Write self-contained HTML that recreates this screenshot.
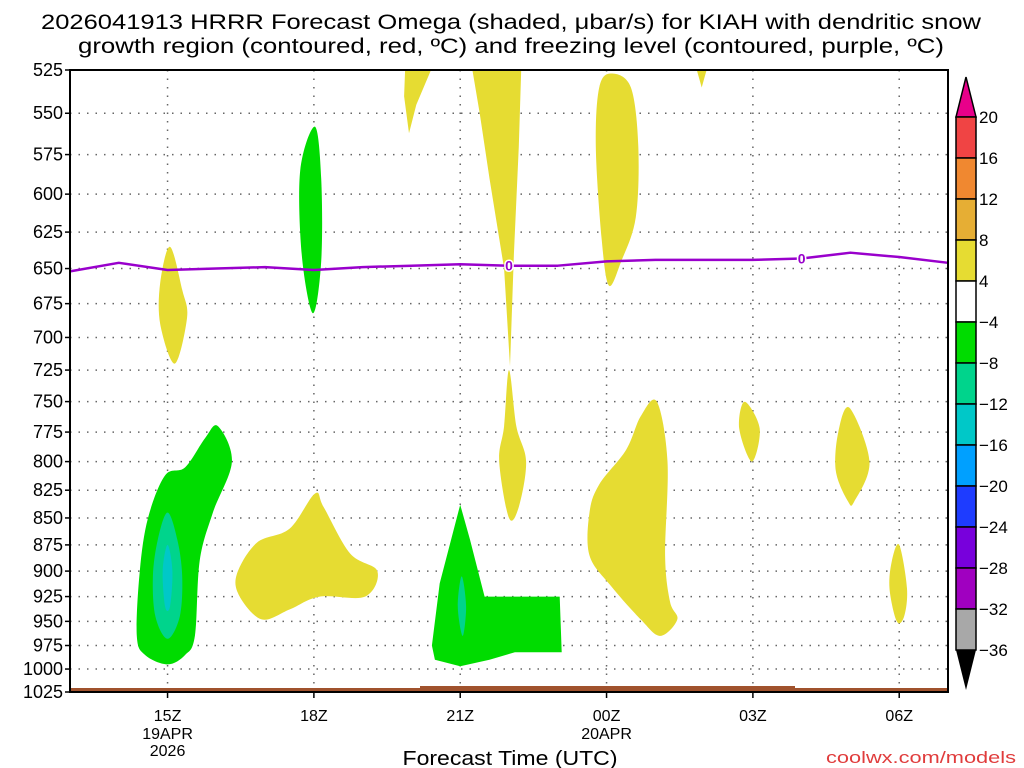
<!DOCTYPE html>
<html><head><meta charset="utf-8"><style>
html,body{margin:0;padding:0;background:#fff;}
svg{display:block;font-family:"Liberation Sans",sans-serif;}
</style></head><body>
<svg id="chart" width="1024" height="768" viewBox="0 0 1024 768">
<text x="511" y="29" text-anchor="middle" font-size="21" textLength="940" lengthAdjust="spacingAndGlyphs">2026041913 HRRR Forecast Omega (shaded, μbar/s) for KIAH with dendritic snow</text>
<text x="511" y="53" text-anchor="middle" font-size="21" textLength="866" lengthAdjust="spacingAndGlyphs">growth region (contoured, red, ºC) and freezing level (contoured, purple, ºC)</text>
<g id="grid"></g>
<g id="shades"></g>
<g id="lines"></g>
<rect x="70" y="688" width="878" height="4" fill="#a0522d"/>
<rect x="420" y="686" width="375" height="6" fill="#a0522d"/>
<rect x="70" y="70" width="878" height="622" fill="none" stroke="#000" stroke-width="2"/>
<g id="axes"></g>
<g id="cbar"></g>
<text x="510" y="765" text-anchor="middle" font-size="20" textLength="215" lengthAdjust="spacingAndGlyphs">Forecast Time (UTC)</text>
<text x="1016" y="763" text-anchor="end" font-size="17" fill="#e03c3c" textLength="190" lengthAdjust="spacingAndGlyphs">coolwx.com/models</text>
</svg>
<script>
const pressureTicks=[525,550,575,600,625,650,675,700,725,750,775,800,825,850,875,900,925,950,975,1000,1025];
const timeTickHours=[2,5,8,11,14,17];
const timeTickLabels=["15Z","18Z","21Z","00Z","03Z","06Z"];
const timeTickDates=["19APR\n2026","","","20APR","",""];
const freezeHours=[0,1,2,3,4,5,6,7,8,9,10,11,12,13,14,15,16,17,18];
const freezePressure=[652,646,651,650,649,651,649,648,647,648,648,645,644,644,644,643,639,642,646];
const freezeLabelHours=[9,15];
const cbarLevels=["20","16","12","8","4","−4","−8","−12","−16","−20","−24","−28","−32","−36"];
const cbarColors=["#f04444","#f08830","#e6ae34","#e6dc32","#ffffff","#00dc00","#00d48c","#00c8c8","#00a0ff","#1e3cff","#7800dc","#a000c0","#a8a8a8"];
// contours: [color, smooth, [[hour,pressure],...]]
const contours=[
["#00dc00",1,[[3.03,770],[3.32,800],[2.93,845],[2.66,890],[2.56,965],[2.36,985],[2.0,995],[1.54,985],[1.37,965],[1.43,900],[1.6,850],[1.95,812],[2.36,805],[2.77,780]]],
["#00d48c",1,[[2.0,845],[2.2,870],[2.3,905],[2.25,945],[2.0,968],[1.75,945],[1.7,905],[1.8,870]]],
["#00c8c8",1,[[2.0,875],[2.1,900],[2.05,935],[1.95,935],[1.9,900]]],
["#e6dc32",1,[[2.05,635],[2.3,665],[2.4,685],[2.15,720],[1.85,690],[1.85,660]]],
["#00dc00",1,[[5.02,558],[5.15,590],[5.15,645],[4.98,682],[4.75,640],[4.72,585]]],
["#e6dc32",1,[[3.42,903],[3.83,873],[4.5,860],[5.02,828],[5.2,840],[5.74,883],[6.3,900],[6.05,925],[5.12,925],[4.5,938],[3.93,948],[3.48,925]]],
["#00dc00",0,[[7.42,975],[7.58,912],[8.0,838],[8.2,870],[8.5,925],[10.04,925],[10.08,982],[9.12,982],[8.6,990],[8.0,997],[7.48,990]]],
["#00d48c",1,[[8.03,905],[8.12,935],[8.05,965],[7.95,935]]],
["#e6dc32",0,[[8.25,525],[9.25,525],[9.2,570],[9.1,640],[9.02,722],[8.9,650],[8.6,590],[8.4,550]]],
["#e6dc32",1,[[9.0,725],[9.15,770],[9.35,800],[9.2,840],[9.0,850],[8.8,800],[8.9,770]]],
["#e6dc32",0,[[6.87,525],[7.4,525],[7.1,545],[6.95,562],[6.85,540]]],
["#e6dc32",1,[[10.85,535],[11.1,527],[11.5,535],[11.65,570],[11.6,615],[11.3,645],[11.05,662],[10.9,630],[10.78,570]]],
["#e6dc32",1,[[12.03,750],[12.25,800],[12.2,885],[12.3,930],[12.45,948],[12.1,965],[11.7,948],[11.1,915],[10.65,885],[10.65,845],[10.85,820],[11.4,790],[11.7,762]]],
["#e6dc32",1,[[13.83,750],[14.14,772],[13.98,800],[13.72,772]]],
["#e6dc32",1,[[15.98,755],[16.39,800],[16.08,835],[15.95,835],[15.7,808],[15.75,775]]],
["#e6dc32",1,[[17.0,875],[17.16,917],[17.1,945],[16.95,950],[16.8,917],[16.85,890]]],
["#e6dc32",0,[[12.85,525],[13.05,525],[12.95,535]]]
];
const NS="http://www.w3.org/2000/svg";
const X0=70,X1=948,Y0=70,Y1=692,H0=0,H1=18,P0=525,P1=1025;
function xs(h){return X0+(h-H0)/(H1-H0)*(X1-X0);}
function ys(p){return Y0+Math.log(p/P0)/Math.log(P1/P0)*(Y1-Y0);}
function mk(tag,attrs,parent){const e=document.createElementNS(NS,tag);for(const k in attrs)e.setAttribute(k,attrs[k]);parent.appendChild(e);return e;}
function smoothPath(P){const n=P.length;let d=`M${P[0][0]},${P[0][1]}`;
  for(let i=0;i<n;i++){const p0=P[(i-1+n)%n],p1=P[i],p2=P[(i+1)%n],p3=P[(i+2)%n];
    const c1=[p1[0]+(p2[0]-p0[0])/6,p1[1]+(p2[1]-p0[1])/6],c2=[p2[0]-(p3[0]-p1[0])/6,p2[1]-(p3[1]-p1[1])/6];
    d+=` C${c1[0].toFixed(1)},${c1[1].toFixed(1)} ${c2[0].toFixed(1)},${c2[1].toFixed(1)} ${p2[0].toFixed(1)},${p2[1].toFixed(1)}`;}
  return d+'Z';}
const grid=document.getElementById('grid'),axes=document.getElementById('axes'),shades=document.getElementById('shades'),lines=document.getElementById('lines'),cbar=document.getElementById('cbar');
pressureTicks.forEach(p=>{
  const y=ys(p);
  const g=mk('line',{x1:X0,x2:X1,y1:y,y2:y,stroke:'#666','stroke-width':1.5,'stroke-dasharray':'1.5,7'},grid);
  
  
  const t=mk('line',{x1:X0-5,x2:X0,y1:y,y2:y,stroke:'#000','stroke-width':1.5},axes);
  
  
  const l=mk('text',{x:X0-7,y:y+6,'text-anchor':'end','font-size':18},axes);
  l.textContent=p;
  
  
});
timeTickHours.forEach((h,i)=>{
  const x=xs(h);
  const g=mk('line',{x1:x,x2:x,y1:Y0,y2:Y1,stroke:'#666','stroke-width':1.5,'stroke-dasharray':'1.5,7'},grid);
  
  
  const t=mk('line',{x1:x,x2:x,y1:Y1,y2:Y1+6,stroke:'#000','stroke-width':1.5},axes);
  
  
  const l=mk('text',{x:x,y:721,'text-anchor':'middle','font-size':16},axes);
  l.textContent=timeTickLabels[i];
  
  
  timeTickDates[i].split('\n').forEach((s,j)=>{if(!s)return;
    const d=mk('text',{x:x,y:739+j*17,'text-anchor':'middle','font-size':16},axes);
    d.textContent=s;
    
    
  });
});
contours.forEach(c=>{
  const P=c[2].map(q=>[xs(q[0]),ys(q[1])]);
  const d=c[1]?smoothPath(P):'M'+P.map(p=>p[0].toFixed(1)+','+p[1].toFixed(1)).join(' L')+'Z';
  const e=mk('path',{d:d,fill:c[0]},shades);
  
  
});
const fl=mk('polyline',{points:freezeHours.map((h,i)=>xs(h)+','+ys(freezePressure[i])).join(' '),fill:'none',stroke:'#9900cc','stroke-width':2.5,'stroke-linejoin':'round'},lines);


freezeLabelHours.forEach(h=>{
  const i=freezeHours.indexOf(h);
  const t=mk('text',{x:xs(h),y:ys(freezePressure[i])+5,'text-anchor':'middle','font-size':14,'font-weight':'bold',fill:'#9900cc',stroke:'#fff','stroke-width':3,'paint-order':'stroke'},lines);
  t.textContent='0';
  
  
});
const CX=956,CW=20,CT=117,BH=41;
const topArrow=mk('polygon',{points:`${CX},${CT} ${CX+CW},${CT} ${CX+CW/2},${CT-40}`,fill:'#e8008a',stroke:'#000','stroke-width':1.5},cbar);


cbarColors.forEach((c,i)=>{
  const r=mk('rect',{x:CX,y:CT+i*BH,width:CW,height:BH,fill:c,stroke:'#000','stroke-width':1.5},cbar);
  
  
});
const botY=CT+cbarColors.length*BH;
const ba=mk('polygon',{points:`${CX},${botY} ${CX+CW},${botY} ${CX+CW/2},${botY+40}`,fill:'#000'},cbar);


cbarLevels.forEach((s,i)=>{
  const t=mk('text',{x:CX+CW+3,y:CT+i*BH+6,'font-size':17},cbar);
  t.textContent=s;
  
  
});
</script>
</body></html>
